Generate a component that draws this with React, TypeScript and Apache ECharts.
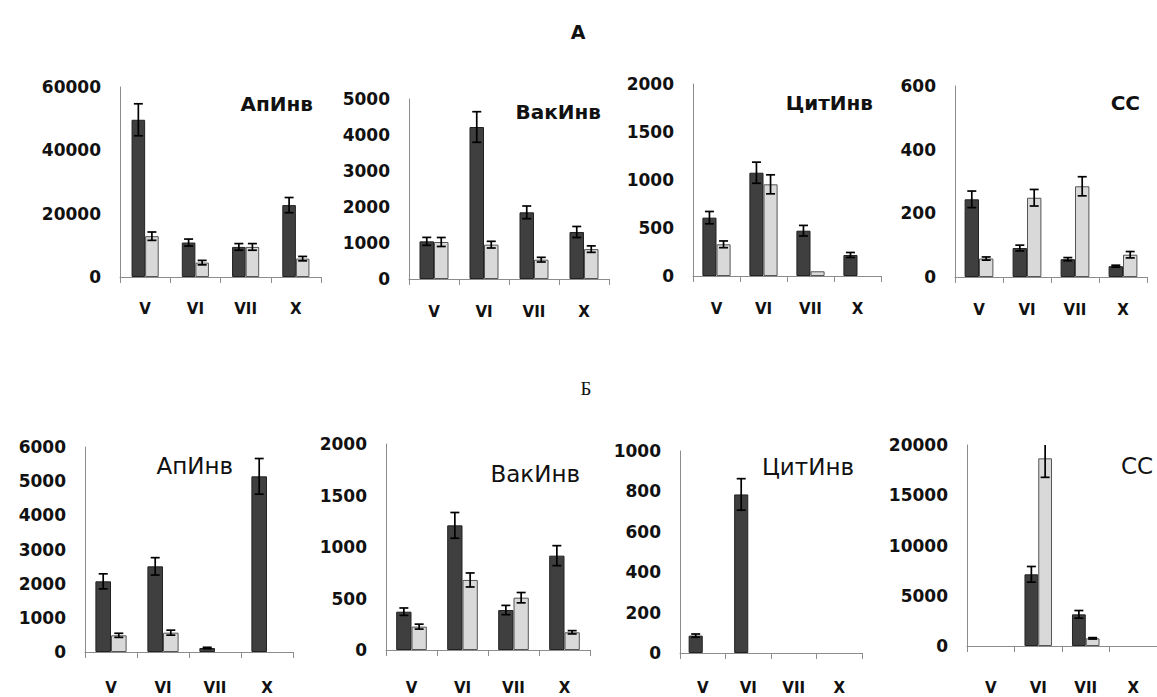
import React, { useEffect, useRef } from 'react';
import * as echarts from 'echarts';

const categories = ['V', 'VI', 'VII', 'X'];

// Row А
const apA_dark = [49650, 10880, 9500, 22700];
const apA_darkErr = [5050, 1100, 1050, 2400];
const apA_light = [12890, 4540, 9500, 5800];
const apA_lightErr = [1320, 700, 1050, 700];

const vakA_dark = [1046, 4222, 1852, 1306];
const vakA_darkErr = [110, 425, 176, 153];
const vakA_light = [1028, 954, 537, 830];
const vakA_lightErr = [125, 93, 65, 90];

const citA_dark = [608, 1076, 472, 219];
const citA_darkErr = [64, 110, 55, 26];
const citA_light = [330, 955, 49, null];
const citA_lightErr = [35, 99, 0, 0];

const ssA_dark = [244, 91, 56, 34];
const ssA_darkErr = [26, 9, 5, 3];
const ssA_light = [58, 249, 285, 70];
const ssA_lightErr = [5, 26, 30, 10];

// Row Б
const apB_dark = [2068, 2507, 117, 5141];
const apB_darkErr = [220, 254, 20, 522];
const apB_light = [488, 566, null, null];
const apB_lightErr = [60, 73, 0, 0];

const vakB_dark = [372, 1210, 388, 916];
const vakB_darkErr = [36, 125, 45, 97];
const vakB_light = [227, 680, 508, 172];
const vakB_lightErr = [24, 68, 50, 16];

const citB_dark = [86, 785, null, null];
const citB_darkErr = [8, 78, 0, 0];
const citB_light = [null, null, null, null];
const citB_lightErr = [0, 0, 0, 0];

const ssB_dark = [null, 7131, 3151, null];
const ssB_darkErr = [0, 780, 380, 0];
const ssB_light = [null, 18673, 763, null];
const ssB_lightErr = [0, 1890, 70, 0];

const panelTitles = ['АпИнв', 'ВакИнв', 'ЦитИнв', 'СС', 'АпИнв', 'ВакИнв', 'ЦитИнв', 'СС'];
const yMax = [60000, 5000, 2000, 600, 6000, 2000, 1000, 20000];
const yStep = [20000, 1000, 500, 200, 1000, 500, 200, 5000];

const panelData = [
  [apA_dark, apA_darkErr, apA_light, apA_lightErr],
  [vakA_dark, vakA_darkErr, vakA_light, vakA_lightErr],
  [citA_dark, citA_darkErr, citA_light, citA_lightErr],
  [ssA_dark, ssA_darkErr, ssA_light, ssA_lightErr],
  [apB_dark, apB_darkErr, apB_light, apB_lightErr],
  [vakB_dark, vakB_darkErr, vakB_light, vakB_lightErr],
  [citB_dark, citB_darkErr, citB_light, citB_lightErr],
  [ssB_dark, ssB_darkErr, ssB_light, ssB_lightErr],
];

// layout (pixels)
const layout = [
  { left: 120, top: 87, width: 201, height: 190, gap: 0.46, lblMargin: 24, title: [313, 104], tSize: 20, tWeight: 'bold' },
  { left: 409, top: 99, width: 200, height: 180, gap: 0.42, lblMargin: 25, title: [601, 112], tSize: 20, tWeight: 'bold' },
  { left: 693, top: 84, width: 188, height: 192, gap: 0.40, lblMargin: 25, title: [873, 103], tSize: 20, tWeight: 'bold' },
  { left: 955, top: 86, width: 192, height: 191, gap: 0.40, lblMargin: 25, title: [1140, 103], tSize: 20, tWeight: 'bold' },
  { left: 85, top: 447, width: 208, height: 205, gap: 0.40, lblMargin: 28, title: [233, 466], tSize: 23, tWeight: 'normal' },
  { left: 386, top: 444, width: 204, height: 206, gap: 0.40, lblMargin: 30, title: [580, 474], tSize: 23, tWeight: 'normal' },
  { left: 680, top: 451, width: 182, height: 202, gap: 0.38, lblMargin: 27, title: [854, 467], tSize: 23, tWeight: 'normal' },
  { left: 967, top: 445, width: 208, height: 201, gap: 0.42, lblMargin: 34, title: [1153, 466], tSize: 23, tWeight: 'normal' },
];

const FONT = '"DejaVu Sans", sans-serif';

function errSeries(gi: number, vals: (number | null)[], errs: number[], side: number, gap: number) {
  const data = vals
    .map((v, i) => (v == null || !errs[i] ? null : [i, v, errs[i]]))
    .filter((d) => d != null);
  return {
    type: 'custom',
    xAxisIndex: gi,
    yAxisIndex: gi,
    clip: true,
    z: 10,
    encode: { x: 0, y: 1 },
    data,
    renderItem: (params: any, api: any) => {
      const i = api.value(0);
      const v = api.value(1);
      const e = api.value(2);
      const band = api.size([1, 0])[0];
      const bw = (band * (1 - gap)) / 2;
      const cx = api.coord([i, v])[0] + (side * bw) / 2;
      const yT = api.coord([i, v + e])[1];
      const yB = api.coord([i, Math.max(0, v - e)])[1];
      const cap = 4.5;
      const st = { stroke: '#000', lineWidth: 1.7 };
      return {
        type: 'group',
        children: [
          { type: 'line', shape: { x1: cx, y1: yT, x2: cx, y2: yB }, style: st },
          { type: 'line', shape: { x1: cx - cap, y1: yT, x2: cx + cap, y2: yT }, style: st },
          { type: 'line', shape: { x1: cx - cap, y1: yB, x2: cx + cap, y2: yB }, style: st },
        ],
      };
    },
  };
}

export default function App() {
  const ref = useRef<HTMLDivElement>(null);
  useEffect(() => {
    document.body.style.margin = '0';
    const chart = echarts.init(ref.current!, null, { renderer: 'svg' });
    const grid: any[] = [];
    const xAxis: any[] = [];
    const yAxis: any[] = [];
    const series: any[] = [];
    const graphic: any[] = [
      {
        type: 'text', x: 578, y: 32,
        style: { text: 'А', fontSize: 19, fontWeight: 'bold', fontFamily: FONT, fill: '#111', textAlign: 'center', textVerticalAlign: 'middle' },
      },
      {
        type: 'text', x: 586, y: 388,
        style: { text: 'Б', fontSize: 19, fontFamily: '"Liberation Serif", serif', fill: '#111', textAlign: 'center', textVerticalAlign: 'middle' },
      },
    ];
    layout.forEach((L, gi) => {
      grid.push({ left: L.left, top: L.top, width: L.width, height: L.height, containLabel: false });
      xAxis.push({
        type: 'category', gridIndex: gi, data: categories,
        axisLine: { lineStyle: { color: '#8c8c8c', width: 1 } },
        axisTick: { show: true, length: 6, lineStyle: { color: '#8c8c8c' } },
        axisLabel: { margin: L.lblMargin, fontSize: 15, fontWeight: 'bold', color: '#111', fontFamily: FONT, interval: 0 },
      });
      yAxis.push({
        type: 'value', gridIndex: gi, min: 0, max: yMax[gi], interval: yStep[gi],
        splitLine: { show: false },
        axisLine: { show: true, lineStyle: { color: '#8c8c8c', width: 1 } },
        axisTick: { show: false },
        axisLabel: { margin: 19, fontSize: 17, fontWeight: 'bold', color: '#111', fontFamily: FONT, formatter: (v: number) => String(v) },
      });
      const [dark, darkErr, light, lightErr] = panelData[gi] as any;
      series.push({
        type: 'bar', xAxisIndex: gi, yAxisIndex: gi, data: dark,
        barGap: '0%', barCategoryGap: `${Math.round(L.gap * 100)}%`,
        itemStyle: { color: '#3f3f3f', borderColor: '#222', borderWidth: 1 },
      });
      series.push({
        type: 'bar', xAxisIndex: gi, yAxisIndex: gi, data: light,
        barGap: '0%', barCategoryGap: `${Math.round(L.gap * 100)}%`,
        itemStyle: { color: '#d9d9d9', borderColor: '#555', borderWidth: 1 },
      });
      series.push(errSeries(gi, dark, darkErr, -1, L.gap));
      series.push(errSeries(gi, light, lightErr, 1, L.gap));
      graphic.push({
        type: 'text', x: L.title[0], y: L.title[1],
        style: {
          text: panelTitles[gi], fontSize: L.tSize, fontWeight: L.tWeight, fontFamily: FONT, fill: '#111',
          textAlign: 'right', textVerticalAlign: 'middle',
        },
      });
    });
    chart.setOption({
      animation: false,
      backgroundColor: '#ffffff',
      grid, xAxis, yAxis, series, graphic,
    });
    return () => chart.dispose();
  }, []);
  return <div ref={ref} style={{ width: 1157, height: 697 }} />;
}
